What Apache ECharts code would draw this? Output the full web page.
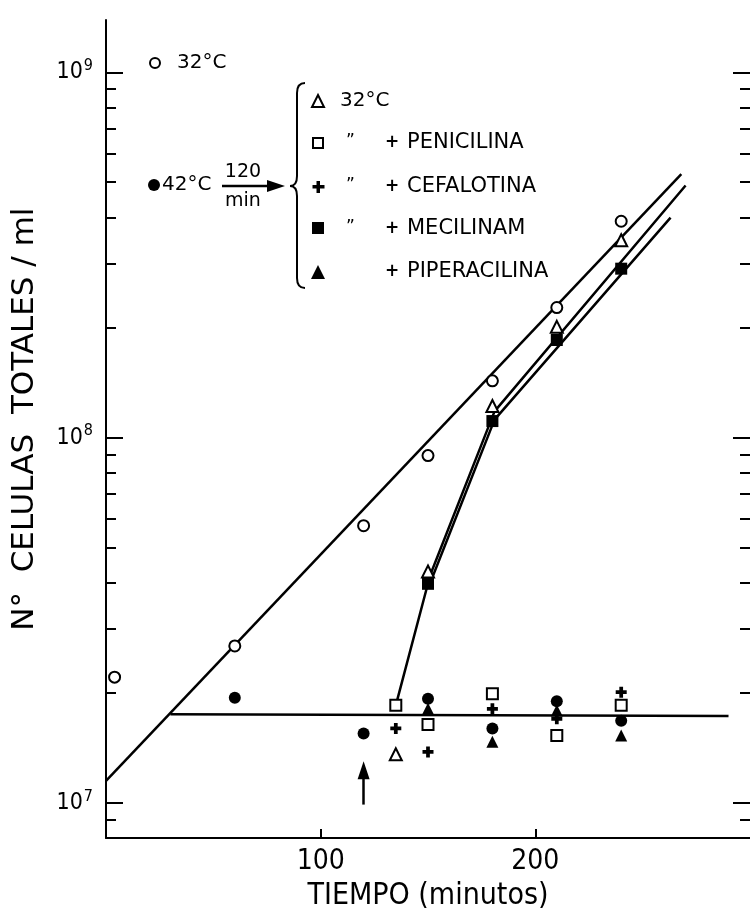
<!DOCTYPE html>
<html>
<head>
<meta charset="utf-8">
<script src="https://cdn.jsdelivr.net/npm/echarts@6/dist/echarts.min.js"></script>
<style>
html, body { margin: 0; padding: 0; background: #fff; }
#chart { width: 750px; height: 920px; }
</style>
</head>
<body>
<div id="chart"></div>
<script>
// tiempo (min) y celulas totales / ml
var tiempo32 = [4, 60, 120, 150, 180, 210, 240];
var celulas32 = [2.21e7, 2.69e7, 5.74e7, 8.93e7, 1.43e8, 2.27e8, 3.91e8];

var tiempo42 = [60, 120, 150, 180, 210, 240];
var celulas42 = [1.94e7, 1.55e7, 1.93e7, 1.60e7, 1.90e7, 1.68e7];

var tiempoVuelta32 = [135, 150, 180, 210, 240];
var celulasVuelta32 = [1.36e7, 4.3e7, 1.22e8, 2.01e8, 3.47e8];

var tiempoPenicilina = [135, 150, 180, 210, 240];
var celulasPenicilina = [1.85e7, 1.64e7, 1.99e7, 1.53e7, 1.85e7];

var tiempoCefalotina = [135, 150, 180, 210, 240];
var celulasCefalotina = [1.60e7, 1.38e7, 1.81e7, 1.70e7, 2.01e7];

var tiempoMecilinam = [150, 180, 210, 240];
var celulasMecilinam = [3.98e7, 1.11e8, 1.85e8, 2.90e8];

var tiempoPiperacilina = [150, 180, 210, 240];
var celulasPiperacilina = [1.81e7, 1.47e7, 1.79e7, 1.53e7];

// rectas trazadas a mano en la figura
var recta32 = [[0, 1.15e7], [268, 5.26e8]];
var recta42 = [[30, 1.75e7], [290, 1.73e7]];
var rectaVuelta32 = [[135, 1.85e7], [151, 4.2e7], [181, 1.18e8], [270, 4.9e8]];
var rectaMecilinam = [[151, 4.0e7], [181, 1.12e8], [263, 4.0e8]];
var flechaCambio = [[120, 9.9e6], [120, 1.23e7]];

var ticksX = [100, 200];
var ticksMayores = [1e7, 1e8, 1e9];

var Y_MIN = 8.02e6, Y_MAX = 1.39e9;
var ticksMenores = [];
for (var e = 6; e <= 9; e++) {
    for (var m = 2; m <= 9; m++) {
        var v = m * Math.pow(10, e);
        if (v > Y_MIN && v < Y_MAX) ticksMenores.push(v);
    }
}

function pares(xs, ys) {
    var out = [];
    for (var i = 0; i < xs.length; i++) out.push([xs[i], ys[i]]);
    return out;
}

var FUENTE = "'DejaVu Sans', sans-serif";
var ESTRECHA = "'Liberation Sans Narrow', 'DejaVu Sans Condensed', sans-serif";
var PLUS = 'path://M3.3,0H6.7V3.3H10V6.7H6.7V10H3.3V6.7H0V3.3H3.3Z';
var abierto = { color: '#fff', borderColor: '#000', borderWidth: 2, opacity: 1 };
var lleno = { color: '#000', opacity: 1 };
var trazo = { fill: 'none', stroke: '#000', lineWidth: 2 };

function recta(data) {
    return {
        type: 'line', data: data, showSymbol: false, symbol: 'none', silent: true,
        lineStyle: { color: '#000', width: 2.5 }, z: 2
    };
}
function puntos(data, symbol, size, style) {
    return {
        type: 'scatter', data: data, symbol: symbol, symbolSize: size,
        itemStyle: style, silent: true, z: 3
    };
}
function ejeY(pos, ticks, largo, etiquetas) {
    return {
        type: 'log', min: Y_MIN, max: Y_MAX, position: pos,
        axisLine: { show: pos === 'left' && etiquetas, lineStyle: { color: '#000', width: 2 } },
        axisTick: { show: true, inside: true, length: largo, customValues: ticks,
            lineStyle: { color: '#000', width: 2 } },
        axisLabel: etiquetas ? {
            show: true, customValues: ticksMayores, margin: 13,
            color: '#000', fontFamily: ESTRECHA, fontSize: 23,
            formatter: function (v) {
                return '10{sup|' + Math.round(Math.log10(v)) + '}';
            },
            rich: { sup: { fontSize: 16, fontFamily: ESTRECHA, color: '#000', padding: [0, 0, 13, 1] } }
        } : { show: false },
        splitLine: { show: false },
        name: etiquetas ? '  N°  CELULAS  TOTALES / ml' : '',
        nameLocation: 'middle', nameGap: 66, nameRotate: 90,
        nameTextStyle: { color: '#000', fontFamily: FUENTE, fontSize: 31 }
    };
}
function texto(x, y, t, size, extra) {
    var s = { x: x, y: y, text: t, font: size + 'px ' + FUENTE, fill: '#000', verticalAlign: 'middle' };
    if (extra) for (var k in extra) s[k] = extra[k];
    return { type: 'text', style: s };
}

var chart = echarts.init(document.getElementById('chart'));
chart.setOption({
    backgroundColor: '#fff',
    animation: false,
    grid: { left: 106, top: 20, width: 649.5, height: 818 },
    xAxis: {
        type: 'value', min: 0, max: 300,
        axisLine: { lineStyle: { color: '#000', width: 2 } },
        axisTick: { inside: true, length: 9, customValues: ticksX, lineStyle: { color: '#000', width: 2 } },
        axisLabel: { customValues: ticksX, color: '#000', fontFamily: ESTRECHA, fontSize: 28, margin: 10 },
        splitLine: { show: false },
        name: 'TIEMPO (minutos)', nameLocation: 'middle', nameGap: 42,
        nameTextStyle: { color: '#000', fontFamily: ESTRECHA, fontSize: 30 }
    },
    yAxis: [
        ejeY('left', ticksMayores, 17, true),
        ejeY('left', ticksMenores, 10, false),
        ejeY('right', ticksMayores, 17, false),
        ejeY('right', ticksMenores, 10, false)
    ],
    series: [
        recta(recta32),
        recta(recta42),
        recta(rectaVuelta32),
        recta(rectaMecilinam),
        {
            type: 'line', data: [], silent: true,
            markLine: {
                silent: true, symbol: ['none', 'triangle'], symbolSize: [12, 18],
                label: { show: false }, emphasis: { disabled: true },
                lineStyle: { color: '#000', width: 2.5, type: 'solid' },
                data: [[{ coord: flechaCambio[0] }, { coord: flechaCambio[1] }]]
            }
        },
        puntos(pares(tiempo42, celulas42), 'circle', 12, lleno),
        puntos(pares(tiempoPiperacilina, celulasPiperacilina), 'triangle', 12, lleno),
        puntos(pares(tiempoMecilinam, celulasMecilinam), 'rect', 12, lleno),
        puntos(pares(tiempoCefalotina, celulasCefalotina), PLUS, 11, lleno),
        puntos(pares(tiempoPenicilina, celulasPenicilina), 'rect', 11, abierto),
        puntos(pares(tiempoVuelta32, celulasVuelta32), 'triangle', 12, abierto),
        puntos(pares(tiempo32, celulas32), 'circle', 11, abierto)
    ],
    graphic: [
        // leyenda izquierda
        { type: 'circle', shape: { cx: 155, cy: 63, r: 5 }, style: { fill: '#fff', stroke: '#000', lineWidth: 2 } },
        texto(177, 63, '32°C', 20),
        { type: 'circle', shape: { cx: 154, cy: 185, r: 6 }, style: { fill: '#000' } },
        texto(162, 185, '42°C', 20),
        texto(243, 172, '120', 19, { align: 'center' }),
        texto(243, 201, 'min', 19, { align: 'center' }),
        { type: 'line', shape: { x1: 222, y1: 186, x2: 270, y2: 186 }, style: { stroke: '#000', lineWidth: 2.5 } },
        { type: 'polygon', shape: { points: [[267, 180], [285, 186], [267, 192]] }, style: { fill: '#000' } },
        // llave
        { type: 'bezierCurve', shape: { x1: 305, y1: 83, cpx1: 297, cpy1: 83, x2: 297, y2: 93 }, style: trazo },
        { type: 'line', shape: { x1: 297, y1: 93, x2: 297, y2: 176 }, style: trazo },
        { type: 'bezierCurve', shape: { x1: 297, y1: 176, cpx1: 297, cpy1: 186, x2: 290, y2: 186 }, style: trazo },
        { type: 'bezierCurve', shape: { x1: 290, y1: 186, cpx1: 297, cpy1: 186, x2: 297, y2: 196 }, style: trazo },
        { type: 'line', shape: { x1: 297, y1: 196, x2: 297, y2: 278 }, style: trazo },
        { type: 'bezierCurve', shape: { x1: 297, y1: 278, cpx1: 297, cpy1: 288, x2: 305, y2: 288 }, style: trazo },
        // leyenda derecha
        { type: 'polygon', shape: { points: [[318, 95], [324, 107], [312, 107]] }, style: { fill: '#fff', stroke: '#000', lineWidth: 2 } },
        texto(340, 101, '32°C', 20),
        { type: 'rect', shape: { x: 313, y: 138, width: 10, height: 10 }, style: { fill: '#fff', stroke: '#000', lineWidth: 2 } },
        { type: 'rect', shape: { x: 316.5, y: 181, width: 3.5, height: 12 }, style: { fill: '#000' } },
        { type: 'rect', shape: { x: 312.5, y: 185, width: 12, height: 3.5 }, style: { fill: '#000' } },
        { type: 'rect', shape: { x: 312, y: 222, width: 12, height: 12 }, style: { fill: '#000' } },
        { type: 'polygon', shape: { points: [[318, 265], [325, 279], [311, 279]] }, style: { fill: '#000' } },
        texto(346, 142, '\u201D', 17),
        texto(346, 186, '\u201D', 17),
        texto(346, 228, '\u201D', 17),
        texto(392, 143, '+', 17, { align: 'center', font: 'bold 17px ' + FUENTE }),
        texto(392, 187, '+', 17, { align: 'center', font: 'bold 17px ' + FUENTE }),
        texto(392, 229, '+', 17, { align: 'center', font: 'bold 17px ' + FUENTE }),
        texto(392, 272, '+', 17, { align: 'center', font: 'bold 17px ' + FUENTE }),
        texto(407, 143, 'PENICILINA', 21),
        texto(407, 187, 'CEFALOTINA', 21),
        texto(407, 229, 'MECILINAM', 21),
        texto(407, 272, 'PIPERACILINA', 21)
    ]
});
</script>
</body>
</html>
